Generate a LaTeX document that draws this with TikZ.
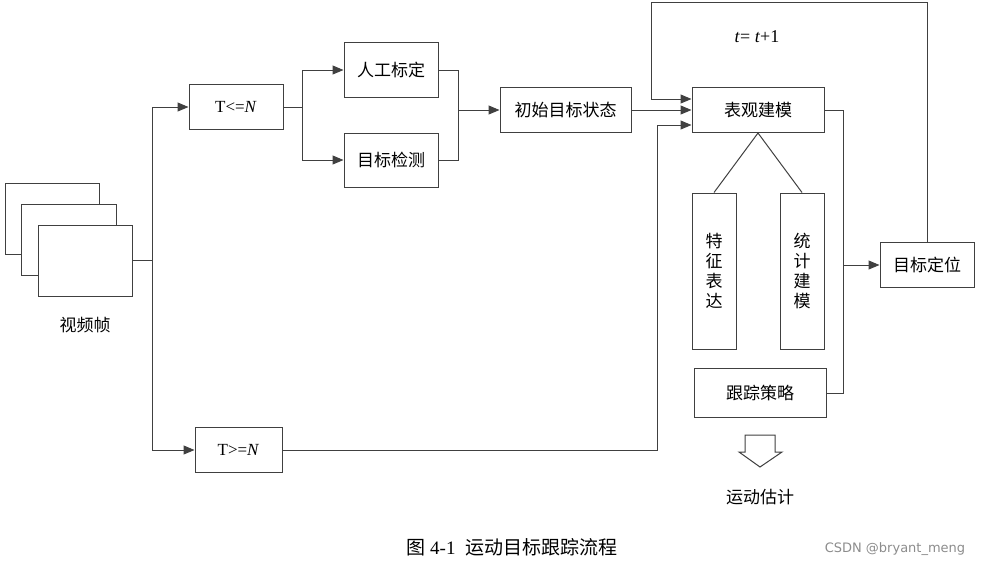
\documentclass[tikz,border=0pt]{standalone}
\usepackage{fontspec}
\setmainfont{Liberation Serif}
\newfontfamily\cjk{Noto Sans CJK SC}
\newfontfamily\marksans{DejaVu Sans}
\usetikzlibrary{arrows.meta}
\usetikzlibrary{calc}

\tikzset{
	blk/.style={draw=black!75, line width=1pt, minimum width=#1, inner sep=0pt, font=\cjk\fontsize{17}{17}\selectfont},
	blk/.default={94pt},
	lnk/.style={draw=black!75, line width=1pt},
	arr/.style={lnk, -{Triangle[length=11pt,width=9pt]}},
}

\begin{document}
\begin{tikzpicture}[x=1pt, y=-1pt]
		\useasboundingbox (0,0) rectangle (987,566);
		% frames
		\draw[lnk, fill=white] (5,183) rectangle (99,254);
		\draw[lnk, fill=white] (21,204) rectangle (116,275);
		\node[blk=94pt, minimum height=71pt, fill=white] (frame) at (85,260.5) {};
		\node[font=\cjk\fontsize{17}{17}\selectfont] (framelbl) at (85,325) {视频帧};

		\node[blk=94pt, minimum height=45pt, font=\fontsize{17}{17}\selectfont] (le) at (236,107) {T<=\textit{N}};
		\node[blk=87pt, minimum height=45pt, font=\fontsize{17}{17}\selectfont] (ge) at (238.5,450) {T>=\textit{N}};
		\node[blk=94pt, minimum height=55pt] (manual) at (391,70) {人工标定};
		\node[blk=94pt, minimum height=54pt] (detect) at (391,160) {目标检测};
		\node[blk=131pt, minimum height=45pt] (init) at (565.5,110) {初始目标状态};
		\node[blk=132pt, minimum height=45pt] (appear) at (758,110) {表观建模};
		\node[blk=44pt, minimum height=156pt, align=center] (feat) at (714,271) {特\\[3pt]征\\[3pt]表\\[3pt]达};
		\node[blk=44pt, minimum height=156pt, align=center] (stat) at (802,271) {统\\[3pt]计\\[3pt]建\\[3pt]模};
		\node[blk=132pt, minimum height=49pt] (track) at (760,393) {跟踪策略};
		\node[blk=94pt, minimum height=45pt] (locate) at (927,265) {目标定位};
		\node[font=\fontsize{18}{18}\selectfont] (tinc) at (757,37) {\textit{t}= \textit{t}+1};
		\node[font=\cjk\fontsize{17}{17}\selectfont] (motion) at (760,497) {运动估计};
		\node[font=\fontsize{19}{19}\selectfont] (caption) at (512,547) {\cjk 图 \rmfamily 4-1\ \ \cjk 运动目标跟踪流程};
		\node[font=\marksans\fontsize{13}{13}\selectfont, text=black!45] (mark) at (895,549) {CSDN @bryant\_meng};

		% branches
		\draw[lnk] (frame.east) -- (152,260.5) coordinate (split);
		\draw[arr] (split) |- (le.west);
		\draw[arr] (split) |- (ge.west);
		\draw[lnk] (le.east) -- (302,107) coordinate (fork);
		\draw[arr] (fork) |- (manual.west);
		\draw[arr] (fork) |- (detect.west);
		\draw[lnk] (manual.east) -| (458,110) coordinate (merge);
		\draw[lnk] (detect.east) -| (merge);
		\draw[arr] (merge) -- (init.west);
		\draw[arr] (init.east) -- (appear.west);
		\draw[arr] (ge.east) -| (657,125) -- (appear.west |- 0,125);
		\draw[arr] (locate.north) |- (651,2) |- (appear.west |- 0,99);

		% appearance model
		\draw[lnk] (appear.south) -- (feat.north);
		\draw[lnk] (appear.south) -- (stat.north);
		\draw[lnk] (appear.east) -| (843,265) coordinate (join);
		\draw[lnk] (track.east) -| (join);
		\draw[arr] (join) -- (locate.west);

		% hollow arrow
		\draw[lnk, fill=white] (745,435) -- (775,435) -- (775,452) -- (782,452) -- (760,467)
			-- (739,452) -- (745,452) -- cycle;
	\end{tikzpicture}
\end{document}
